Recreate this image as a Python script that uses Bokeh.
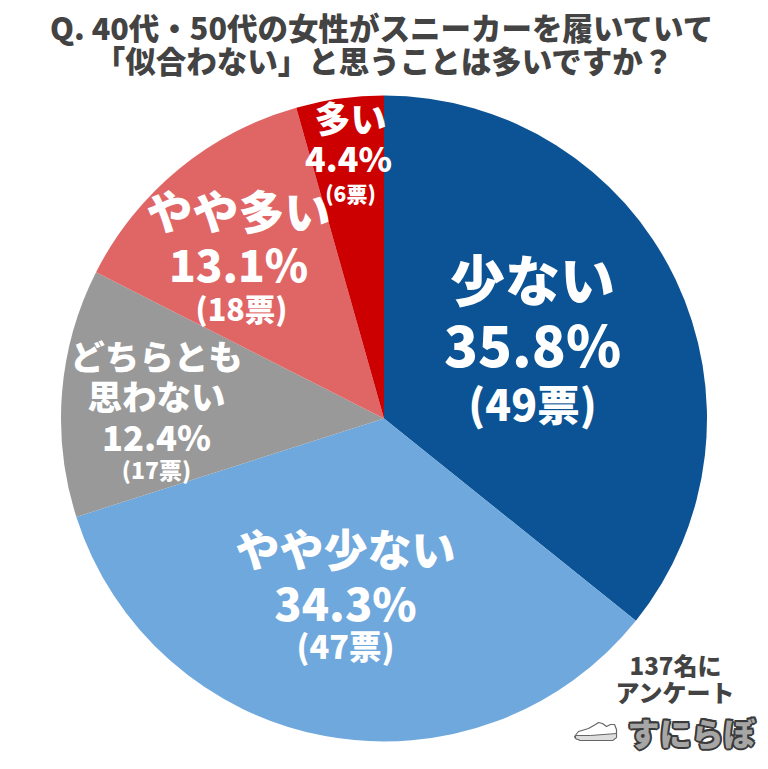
from math import pi
from bokeh.plotting import figure
from bokeh.core.properties import value
from bokeh.embed import file_html
from bokeh.resources import INLINE
from bokeh.models import Range1d

categories = ["少ない", "やや少ない", "どちらとも\n思わない", "やや多い", "多い"]
votes = [49, 47, 17, 18, 6]
percents = ["35.8%", "34.3%", "12.4%", "13.1%", "4.4%"]
vote_labels = ["(49票)", "(47票)", "(17票)", "(18票)", "(6票)"]
colors = ["#0B5394", "#6FA8DC", "#999999", "#E06666", "#CC0000"]
title_lines = ["Q. 40代・50代の女性がスニーカーを履いていて", "「似合わない」と思うことは多いですか？"]
note_lines = ["137名に", "アンケート"]
brand = "すにらぼ"

FONT = value("Noto Sans CJK JP Black")
W, H = 760, 761
p = figure(width=W, height=H, output_backend="svg", toolbar_location=None,
           x_range=Range1d(0, W), y_range=Range1d(H, 0),
           min_border=0, outline_line_color=None)
p.axis.visible = False
p.grid.visible = False
p.background_fill_color = "white"
p.border_fill_color = "white"

# pie, clockwise on screen from 12 o'clock
cx, cy, r = 383.5, 418, 323
total = sum(votes)
acc = 0
for v, c in zip(votes, colors):
    a0 = pi / 2 - 2 * pi * acc / total
    acc += v
    a1 = pi / 2 - 2 * pi * acc / total
    p.wedge(x=[cx], y=[cy], radius=r, start_angle=[a0], end_angle=[a1],
            direction="clock", fill_color=c, line_color=None)

def txt(x, y, s, size, color="white"):
    p.text(x=[x], y=[y], text=[s], text_font=FONT, text_font_style="bold",
           text_font_size=f"{size}px", text_color=color,
           text_align="center", text_baseline="middle")

txt(382, 26, title_lines[0], 30.5, "#434343")
txt(384, 59, title_lines[1], 30.5, "#434343")

txt(532, 276, categories[0], 55)
txt(532, 342, percents[0], 56)
txt(532, 402, vote_labels[0], 42.5)

txt(345, 547, categories[1], 44)
txt(345, 601, percents[1], 45)
txt(345, 644, vote_labels[1], 32.5)

l1, l2 = categories[2].split("\n")
txt(156, 354, l1, 34.5)
txt(156, 394, l2, 34.5)
txt(156, 435, percents[2], 34.5)
txt(156, 468, vote_labels[2], 23)

txt(238, 208, categories[3], 46)
txt(238, 262, percents[3], 44)
txt(241, 307, vote_labels[3], 30.5)

txt(350, 116, categories[4], 36)
txt(348, 157, percents[4], 34)
txt(350, 192, vote_labels[4], 21)

txt(675, 664, note_lines[0], 24, "#434343")
txt(675, 691, note_lines[1], 24, "#434343")

# brand: dark outline made of offset copies, grey fill on top
for dx, dy in [(-2, 0), (2, 0), (0, -2), (0, 2), (-1.5, -1.5), (1.5, -1.5), (-1.5, 1.5), (1.5, 1.5)]:
    txt(691 + dx, 731 + dy, brand, 32, "#3a3a3a")
txt(691, 731, brand, 32, "#a6a6a6")

# shoe icon
shoe_x = [574, 578, 588, 595, 598, 602, 606, 610, 614, 616, 616, 612, 580, 575]
shoe_y = [736, 731, 728, 724, 722, 723, 726, 724, 724, 729, 737, 740, 740, 738]
p.patch(x=shoe_x, y=shoe_y, fill_color="white", line_color="#666666", line_width=1.2)
p.patch(x=[575, 590, 616, 616, 612, 580, 575], y=[735, 735, 733, 737, 740, 740, 738],
        fill_color="#dddddd", line_color="#666666", line_width=1)

open("out.html", "w").write(file_html(p, INLINE))
